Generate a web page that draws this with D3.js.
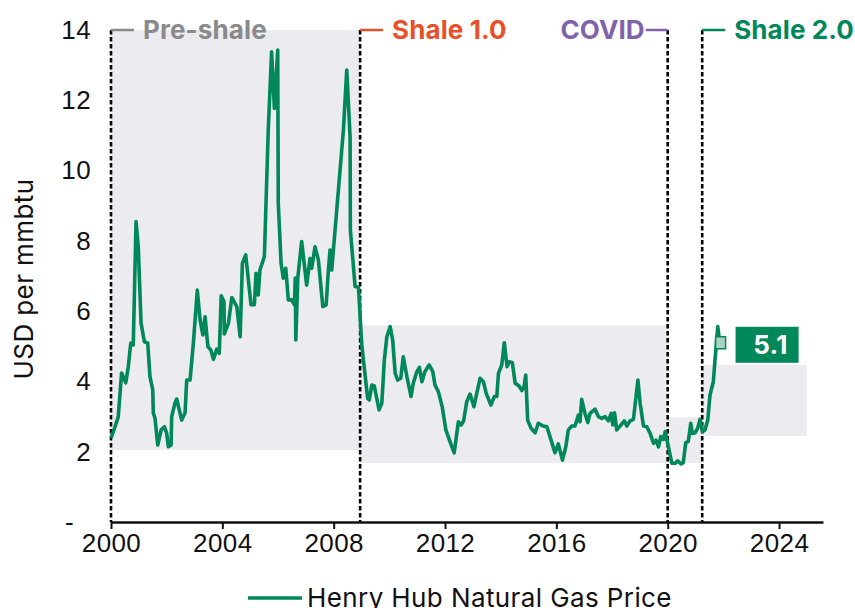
<!DOCTYPE html>
<html>
<head>
<meta charset="utf-8">
<script src="https://cdn.jsdelivr.net/npm/d3@7"></script>
<style>
  html, body { margin: 0; padding: 0; background: #fff; }
  svg { display: block; font-family: Inter, "DejaVu Sans", sans-serif; letter-spacing: 0.4px; }
</style>
</head>
<body>
<svg id="chart" width="855" height="608"></svg>
<script>
// Henry Hub natural gas spot price, USD per mmbtu (decimal year, price)
const dates = [
  2000.00, 2000.14, 2000.26, 2000.38, 2000.53, 2000.62, 2000.71, 2000.80, 2000.90, 2000.98,
  2001.08, 2001.20, 2001.32, 2001.40, 2001.50, 2001.52, 2001.58, 2001.68, 2001.80, 2001.92,
  2002.00, 2002.06, 2002.16, 2002.18, 2002.30, 2002.36, 2002.54, 2002.66, 2002.72, 2002.84,
  2002.96, 2003.10, 2003.20, 2003.30, 2003.38, 2003.48, 2003.59, 2003.68, 2003.80, 2003.89,
  2003.96, 2004.06, 2004.07, 2004.22, 2004.34, 2004.52, 2004.64, 2004.72, 2004.84, 2005.03,
  2005.15, 2005.21, 2005.29, 2005.35, 2005.51, 2005.65, 2005.77, 2005.87, 2005.99, 2006.01,
  2006.11, 2006.19, 2006.28, 2006.37, 2006.49, 2006.59, 2006.62, 2006.64, 2006.71, 2006.85,
  2007.03, 2007.15, 2007.21, 2007.33, 2007.45, 2007.61, 2007.73, 2007.81, 2007.87, 2007.93,
  2008.07, 2008.23, 2008.35, 2008.47, 2008.59, 2008.60, 2008.77, 2008.89, 2009.01, 2009.22,
  2009.28, 2009.37, 2009.46, 2009.63, 2009.73, 2009.82, 2009.91, 2010.03, 2010.12, 2010.21,
  2010.30, 2010.41, 2010.50, 2010.63, 2010.78, 2010.86, 2010.99, 2011.08, 2011.17, 2011.28,
  2011.43, 2011.56, 2011.64, 2011.76, 2011.90, 2012.03, 2012.18, 2012.33, 2012.48, 2012.58,
  2012.67, 2012.78, 2012.90, 2013.04, 2013.14, 2013.26, 2013.38, 2013.48, 2013.65, 2013.77,
  2013.86, 2013.92, 2014.04, 2014.13, 2014.23, 2014.30, 2014.42, 2014.52, 2014.66, 2014.76,
  2014.84, 2014.90, 2014.97, 2015.09, 2015.24, 2015.35, 2015.53, 2015.66, 2015.81, 2015.95,
  2016.07, 2016.22, 2016.34, 2016.43, 2016.55, 2016.67, 2016.79, 2016.85, 2016.91, 2017.03,
  2017.13, 2017.21, 2017.39, 2017.51, 2017.63, 2017.75, 2017.87, 2017.97, 2018.03, 2018.09,
  2018.17, 2018.29, 2018.44, 2018.53, 2018.65, 2018.77, 2018.93, 2019.01, 2019.13, 2019.25,
  2019.37, 2019.49, 2019.58, 2019.67, 2019.75, 2019.85, 2019.91, 2020.00, 2020.15, 2020.27,
  2020.36, 2020.48, 2020.56, 2020.65, 2020.74, 2020.83, 2020.89, 2020.99, 2021.08, 2021.16,
  2021.25, 2021.34, 2021.44, 2021.52, 2021.64, 2021.70, 2021.80, 2021.85, 2021.90
];
const prices = [
  2.39, 2.70, 2.99, 4.24, 3.96, 4.41, 5.09, 5.04, 8.55, 7.83,
  5.66, 5.13, 5.09, 4.14, 3.76, 3.10, 2.96, 2.19, 2.62, 2.71,
  2.53, 2.14, 2.19, 3.00, 3.39, 3.50, 2.90, 3.10, 4.04, 4.04,
  5.09, 6.60, 5.75, 5.32, 5.84, 4.99, 4.89, 4.63, 4.92, 4.80,
  6.44, 6.27, 5.35, 5.66, 6.39, 6.13, 5.27, 7.36, 7.60, 6.18,
  6.18, 7.08, 6.46, 7.17, 7.55, 11.16, 13.38, 11.77, 13.43, 9.07,
  7.36, 6.94, 7.22, 6.32, 6.32, 6.18, 6.94, 5.18, 6.94, 7.98,
  6.74, 7.50, 7.22, 7.83, 7.46, 6.13, 6.18, 7.17, 7.74, 7.17,
  8.50, 10.02, 11.16, 12.86, 10.96, 8.31, 6.70, 6.68, 5.04, 3.52,
  3.47, 3.90, 3.87, 3.19, 3.38, 4.61, 5.27, 5.56, 5.18, 4.23,
  4.04, 4.09, 4.70, 4.14, 3.57, 3.95, 4.28, 4.40, 3.99, 4.28,
  4.47, 4.28, 3.90, 3.71, 3.28, 2.62, 2.29, 1.97, 2.85, 2.76,
  2.88, 3.42, 3.64, 3.28, 3.66, 4.09, 3.99, 3.66, 3.33, 3.57,
  3.57, 4.23, 4.47, 5.10, 4.42, 4.56, 4.53, 3.95, 3.87, 3.74,
  3.85, 4.18, 2.90, 2.67, 2.54, 2.81, 2.73, 2.71, 2.33, 1.97,
  2.22, 1.76, 2.14, 2.62, 2.73, 2.73, 3.04, 2.85, 3.49, 3.09,
  2.83, 3.09, 3.21, 3.00, 2.95, 3.00, 2.88, 3.09, 2.76, 3.11,
  2.62, 2.73, 2.88, 2.73, 2.88, 2.92, 4.04, 3.38, 2.73, 2.71,
  2.52, 2.24, 2.33, 2.14, 2.43, 2.35, 2.57, 2.24, 1.67, 1.67,
  1.74, 1.65, 1.69, 2.26, 2.29, 2.81, 2.52, 2.54, 2.67, 2.92,
  2.57, 2.62, 2.90, 3.61, 3.99, 4.61, 5.56, 5.23, 5.10
];

// Market regimes: name, start/end of the shaded range, price range in that regime
const periodNames  = ["Pre-shale", "Shale 1.0", "COVID", "Shale 2.0"];
const periodColors = ["#8a8a8d", "#e8502a", "#8062aa", "#00875a"];
const periodStart  = [2000.00, 2008.95, 2020.00, 2021.24];
const periodEnd    = [2008.95, 2020.00, 2021.24, 2025.00];
const rangeHigh    = [14.00, 5.60, 2.98, 4.47];
const rangeLow     = [2.05, 1.68, 1.68, 2.45];

const xTicks = [2000, 2004, 2008, 2012, 2016, 2020, 2024];
const yTicks = [0, 2, 4, 6, 8, 10, 12, 14];
const latestValue = 5.1;
const seriesName = "Henry Hub Natural Gas Price";
const yTitle = "USD per mmbtu";

const green = "#00875a";
const fontSize = 26;
const svg = d3.select("#chart");

const x = d3.scaleLinear().domain([2000, 2025.58]).range([111, 823]);
const y = d3.scaleLinear().domain([0, 14]).range([522, 30]);

// shaded price ranges
svg.append("g").selectAll("rect")
  .data(periodNames.map((n, i) => i))
  .join("rect")
  .attr("x", i => x(periodStart[i]))
  .attr("width", i => x(periodEnd[i]) - x(periodStart[i]))
  .attr("y", i => y(rangeHigh[i]))
  .attr("height", i => y(rangeLow[i]) - y(rangeHigh[i]))
  .attr("fill", "#ebebf0");

// regime dividers
const dividers = [2000.00, 2008.95, 2020.00, 2021.24];
svg.append("g").selectAll("line")
  .data(dividers)
  .join("line")
  .attr("x1", d => x(d)).attr("x2", d => x(d))
  .attr("y1", y(14)).attr("y2", y(0))
  .attr("stroke", "#000")
  .attr("stroke-width", 2.6)
  .attr("stroke-dasharray", "4.5,2.5");

// regime labels with a short colored tab
const labels = svg.append("g").attr("font-weight", 700).attr("font-size", fontSize)
  .attr("letter-spacing", "0.1px");
periodNames.forEach((name, i) => {
  const left = name === "COVID";
  const x0 = x(dividers[i]);
  const tab = left ? [x0 - 22, x0] : [x0, x0 + 23];
  labels.append("line")
    .attr("x1", tab[0]).attr("x2", tab[1])
    .attr("y1", y(14)).attr("y2", y(14))
    .attr("stroke", periodColors[i]).attr("stroke-width", 2.5);
  labels.append("text")
    .attr("x", left ? x0 - 23 : x0 + 32)
    .attr("y", y(14))
    .attr("dy", "0.36em")
    .attr("text-anchor", left ? "end" : "start")
    .attr("fill", periodColors[i])
    .text(name);
});

// price line
const series = dates.map((d, i) => [d, prices[i]]);
svg.append("path")
  .datum(series)
  .attr("fill", "none")
  .attr("stroke", green)
  .attr("stroke-width", 3.6)
  .attr("stroke-linejoin", "round")
  .attr("d", d3.line().x(d => x(d[0])).y(d => y(d[1])));

// latest value marker and call-out
const lastDate = dates[dates.length - 1];
svg.append("rect")
  .attr("x", x(lastDate) - 5).attr("y", y(latestValue) - 6)
  .attr("width", 10).attr("height", 12)
  .attr("fill", "#a9d3bf").attr("stroke", green).attr("stroke-width", 1.5);
svg.append("rect")
  .attr("x", x(lastDate) + 15).attr("y", y(latestValue) - 16)
  .attr("width", 63).attr("height", 36)
  .attr("fill", green);
svg.append("text")
  .attr("x", x(lastDate) + 50).attr("y", y(latestValue) + 2)
  .attr("dy", "0.36em")
  .attr("text-anchor", "middle")
  .attr("fill", "#fff").attr("font-weight", 700).attr("font-size", fontSize)
  .text(d3.format(".1f")(latestValue));

// x axis
const xAxis = svg.append("g")
  .attr("transform", `translate(0,${y(0)})`)
  .call(d3.axisBottom(x).tickValues(xTicks).tickFormat(d3.format("d")).tickSize(7).tickSizeOuter(0).tickPadding(5));
xAxis.select(".domain").attr("stroke", "#111").attr("stroke-width", 2.5);
xAxis.selectAll(".tick line").attr("stroke", "#111").attr("stroke-width", 2);
xAxis.selectAll("text").attr("font-size", fontSize).attr("font-family", null).attr("fill", "#111");

// y axis
const yAxis = svg.append("g")
  .attr("transform", `translate(${x(2000)},0)`)
  .call(d3.axisLeft(y).tickValues(yTicks).tickFormat(v => v === 0 ? "-" : v).tickSize(0).tickPadding(20));
yAxis.select(".domain").remove();
yAxis.selectAll("text").attr("font-size", fontSize).attr("font-family", null).attr("fill", "#111");
yAxis.selectAll(".tick").filter(v => v === 0).select("text").attr("dx", -17);

// y title
svg.append("text")
  .attr("transform", `translate(24,279) rotate(-90)`)
  .attr("text-anchor", "middle")
  .attr("dy", "0.36em")
  .attr("font-size", fontSize)
  .attr("fill", "#111")
  .text(yTitle);

// legend
const legend = svg.append("g").attr("transform", "translate(248,598)");
legend.append("line").attr("x1", 0).attr("x2", 54).attr("stroke", green).attr("stroke-width", 3.4);
legend.append("text").attr("x", 59).attr("dy", "0.36em")
  .attr("font-size", fontSize).attr("fill", "#111").text(seriesName);
</script>
</body>
</html>
